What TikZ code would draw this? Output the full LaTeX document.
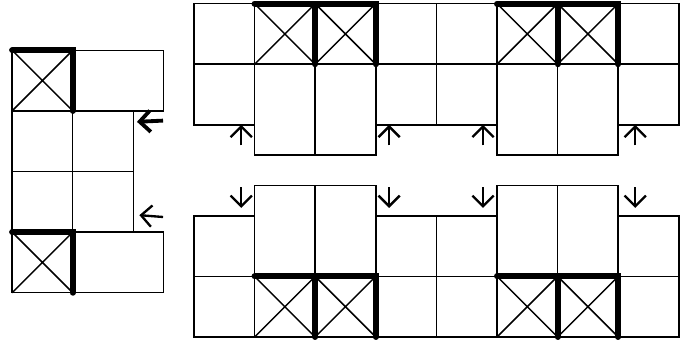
\documentclass[tikz,border=0pt]{standalone}
\usetikzlibrary{arrows.meta}
\tikzset{
  wall/.style={line width=2.8pt, line cap=round},
  arr/.style={-{Straight Barb[length=5pt,width=10pt]}, line width=1.1pt}
}
\begin{document}
\begin{tikzpicture}[line width=0.7pt]
  \useasboundingbox (-0.2,-0.083) rectangle (11.25,5.56);
  % left block
  \foreach \y in {0.73,3.73} {
    \draw (0,\y) rectangle +(1,1) (1,\y) rectangle +(1.5,1);
    \draw (0,\y) -- +(1,1) (0,\y+1) -- +(1,-1);
    \draw[wall] (0,\y+1) -- +(1,0) -- +(1,-1);
  }
  \foreach \y in {1.73,2.73} \draw (0,\y) rectangle +(1,1) (1,\y) rectangle +(1,1);
  \coordinate (lt1) at (2.49,3.57);  \coordinate (lh1) at (2.06,3.55);
  \coordinate (lt2) at (2.49,1.98);  \coordinate (lh2) at (2.1,2.01);
  \draw[arr, line width=1.8pt] (lt1) -- (lh1);
  \draw[arr] (lt2) -- (lh2);
  % top block
  \foreach \x in {3,...,10} \draw (\x,4.5) rectangle +(1,1);
  \foreach \x in {3,6,7,10} \draw (\x,3.5) rectangle +(1,1);
  \foreach \x in {4,5,8,9} {
    \draw (\x,3) rectangle +(1,1.5);
    \draw (\x,4.5) -- +(1,1) (\x,5.5) -- +(1,-1);
    \draw[wall] (\x,5.5) -- +(1,0) -- +(1,-1);
  }
  % bottom block
  \foreach \x in {3,...,10} \draw (\x,0) rectangle +(1,1);
  \foreach \x in {3,6,7,10} \draw (\x,1) rectangle +(1,1);
  \foreach \x in {4,5,8,9} {
    \draw (\x,1) rectangle +(1,1.5);
    \draw (\x,0) -- +(1,1) (\x,1) -- +(1,-1);
    \draw[wall] (\x,1) -- +(1,0) -- +(1,-1);
  }
  % arrows
  \foreach \x [count=\i] in {3.78,6.22,7.77,10.28} {
    \coordinate (ut\i) at (\x,3.16);  \coordinate (uh\i) at (\x,3.5);
    \draw[arr] (ut\i) -- (uh\i);
    \coordinate (dt\i) at (\x,2.47);  \coordinate (dh\i) at (\x,2.13);
    \draw[arr] (dt\i) -- (dh\i);
  }
\end{tikzpicture}
\end{document}
